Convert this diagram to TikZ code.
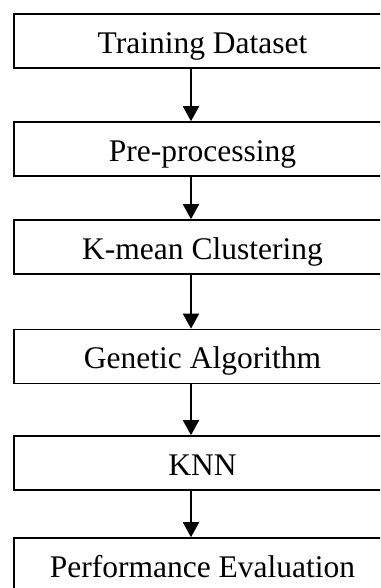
\documentclass[tikz,border=0pt]{standalone}
\usepackage{fontspec}
\setmainfont{Liberation Serif}
\usetikzlibrary{arrows.meta}
\tikzset{
  stagebox/.style = {draw,line width=1.6pt,minimum width=377pt,minimum height=54pt,
                     inner sep=0pt,text height=25pt,text depth=0pt,
                     font=\fontsize{31.5}{36}\selectfont},
  flowarr/.style  = {-{Triangle[length=15pt,width=16pt]},line width=1.8pt}
}
\begin{document}
\begin{tikzpicture}[x=1pt,y=1pt]
  \useasboundingbox (0,0) rectangle (380,588);
  \clip (0,0) rectangle (380,588);
  % --- the six stages, top to bottom; boxes run past the right edge
  \node[stagebox] (train) at (202.5,547)   {Training Dataset};
  \node[stagebox] (prep)  at (202.5,439)   {Pre-processing};
  \node[stagebox] (kmean) at (202.5,341)   {K-mean Clustering};
  \node[stagebox] (ga)    at (202.5,231.5) {Genetic Algorithm};
  \node[stagebox] (knn)   at (202.5,125)   {KNN};
  \node[stagebox] (perf)  at (202.5,23)    {Performance Evaluation};
  % --- arrows sit a little left of the box centres
  \coordinate (ax) at (191,0);
  \foreach \a/\b in {train/prep,prep/kmean,kmean/ga,ga/knn,knn/perf}
    { \draw[flowarr] (\a.south -| ax) -- (\b.north -| ax); }
\end{tikzpicture}
\end{document}
